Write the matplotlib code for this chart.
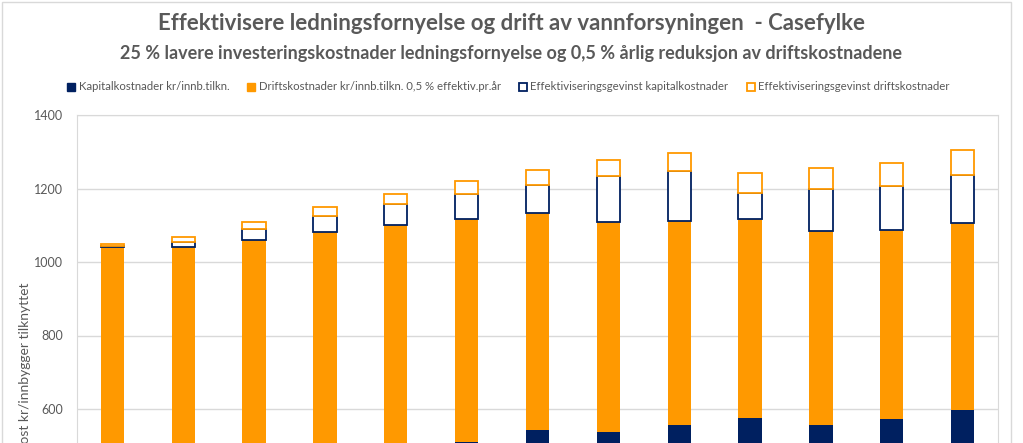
import numpy as np
import matplotlib.pyplot as plt
from matplotlib.patches import Patch, Rectangle

plt.rcParams['font.family'] = ['Lato', 'DejaVu Sans']

# Data (kr per connected inhabitant)
years = [str(y) for y in range(2021, 2034)]
kapital = [470, 478, 486, 494, 502, 511, 543, 537, 556, 576, 556, 572, 597]
drift_top = [1042, 1041, 1060, 1081, 1100, 1117, 1132, 1109, 1112, 1118, 1085, 1087, 1106]
gevinst_kapital = [1, 14, 30, 45, 57, 68, 78, 125, 135, 69, 113, 120, 130]
gevinst_drift = [5, 14, 18, 24, 29, 35, 40, 43, 49, 54, 58, 63, 69]

labels = ["Kapitalkostnader kr/innb.tilkn.",
          "Driftskostnader kr/innb.tilkn. 0,5 % effektiv.pr.år",
          "Effektiviseringsgevinst kapitalkostnader",
          "Effektiviseringsgevinst driftskostnader"]

navy = '#002060'
orange = '#FF9900'
grey = '#595959'

kapital = np.array(kapital)
drift = np.array(drift_top) - kapital
gk = np.array(gevinst_kapital)
gd = np.array(gevinst_drift)

W, H = 1023, 443
fig = plt.figure(figsize=(W / 100, H / 100), dpi=100)

# outer chart border
fig.add_artist(Rectangle((2 / W, -0.1), (1011 - 2) / W, 1 - 2 / H + 0.1,
                         transform=fig.transFigure, fill=False,
                         edgecolor='#D9D9D9', lw=1))

# axes extend below the visible image (value 0 sits below the bottom edge)
y_top, y_zero = 115, 629.5
ax = fig.add_axes([77 / W, (H - y_zero) / H, (998 - 77) / W, (y_zero - y_top) / H])

x = np.arange(len(years))
bw = 0.33
ax.bar(x, kapital, bw, color=navy, zorder=3)
ax.bar(x, drift, bw, bottom=kapital, color=orange, zorder=3)
ax.bar(x, gk, bw, bottom=kapital + drift, facecolor='white', edgecolor=navy, lw=1.3, zorder=3)
ax.bar(x, gd, bw, bottom=kapital + drift + gk, facecolor='white', edgecolor=orange, lw=1.3, zorder=3)

ax.set_xlim(-0.5, len(years) - 0.5)
ax.set_ylim(0, 1400)
ax.set_yticks(range(600, 1401, 200))
ax.set_xticks(x)
ax.set_xticklabels([])
ax.yaxis.grid(True, color='#D9D9D9', lw=1, zorder=0)
ax.tick_params(axis='y', length=0, pad=10, labelsize=9, labelcolor=grey)
ax.tick_params(axis='x', length=0)
for s in ax.spines.values():
    s.set_color('#D9D9D9')

# y label: the lower part falls outside the cropped image, as in the reference
fig.text(25 / W, 1 - 283 / H, "Selvkost kr/innbygger tilknyttet", rotation=90,
         ha='center', va='top', fontsize=10, color=grey)

fig.text(0.5, 1 - 24 / H, "Effektivisere ledningsfornyelse og drift av vannforsyningen  - Casefylke",
         ha='center', va='center', fontsize=16, fontweight='bold', color=grey)
fig.text(0.5, 1 - 53 / H, "25 % lavere investeringskostnader ledningsfornyelse og 0,5 % årlig reduksjon av driftskostnadene",
         ha='center', va='center', fontsize=13, fontweight='bold', color=grey)

handles = [Patch(facecolor=navy, edgecolor=navy),
           Patch(facecolor=orange, edgecolor=orange),
           Patch(facecolor='white', edgecolor=navy, lw=1.3),
           Patch(facecolor='white', edgecolor=orange, lw=1.3)]
fig.legend(handles, labels, loc='center', bbox_to_anchor=(0.497, 1 - 87 / H), ncol=4,
           frameon=False, fontsize=8.2, labelcolor=grey, handlelength=0.7, handleheight=0.7,
           handletextpad=0.3, columnspacing=1.6)

fig.savefig('out.png', dpi=100)
